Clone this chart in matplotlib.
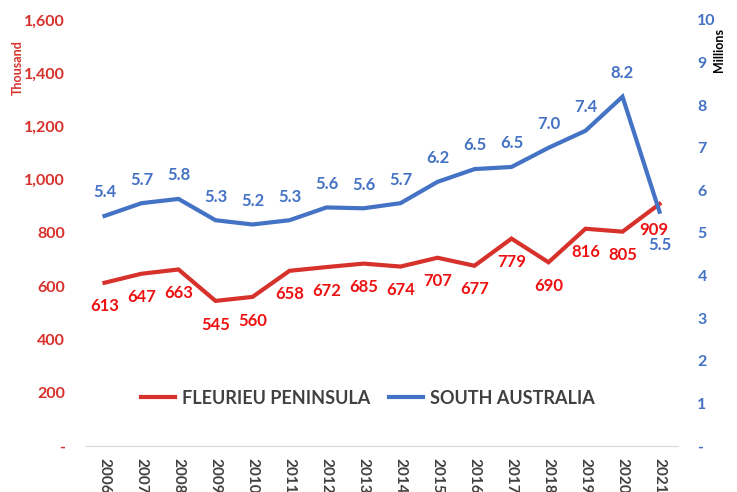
import matplotlib.pyplot as plt
from matplotlib.ticker import FuncFormatter

years = [str(y) for y in range(2006, 2022)]
fleurieu = [613, 647, 663, 545, 560, 658, 672, 685, 674, 707, 677, 779, 690, 816, 805, 909]
south_aus = [5.4, 5.7, 5.8, 5.3, 5.2, 5.3, 5.6, 5.58, 5.7, 6.2, 6.5, 6.55, 7.0, 7.4, 8.2, 5.5]

RED = "#D7312B"
RED_TXT = "#EE1111"
BLUE = "#4472C4"

plt.rcParams['font.family'] = ['Lato', 'DejaVu Sans']
plt.rcParams['font.weight'] = 'bold'

fig = plt.figure(figsize=(7.37, 4.92), dpi=100)
ax = fig.add_axes([86 / 737, 1 - 446 / 492, (678 - 86) / 737, (446 - 20) / 492])
ax2 = ax.twinx()

x = list(range(len(years)))
ax.plot(x, fleurieu, color=RED, lw=3, label="FLEURIEU PENINSULA", solid_joinstyle="miter")
ax2.plot(x, south_aus, color=BLUE, lw=3, label="SOUTH AUSTRALIA", solid_joinstyle="miter")

ax.set_xlim(-0.5, len(years) - 0.5)
ax.set_ylim(0, 1600)
ax2.set_ylim(0, 10)
ax.set_yticks(range(0, 1601, 200))
ax2.set_yticks(range(0, 11))

ax.yaxis.set_major_formatter(FuncFormatter(lambda v, p: "-" if v == 0 else f"{v:,.0f}"))
ax2.yaxis.set_major_formatter(FuncFormatter(lambda v, p: "-" if v == 0 else f"{v:.0f}"))

ax.set_xticks(x)
ax.set_xticklabels(years, rotation=270, fontsize=11, color="#404040", fontweight="bold")
ax.tick_params(axis="x", length=0, pad=9)
ax.tick_params(axis="y", length=0, labelsize=11.5, labelcolor=RED, pad=15)
ax2.tick_params(axis="y", length=0, labelsize=11.5, labelcolor=BLUE, pad=14)

for a in (ax, ax2):
    for side in ("top", "left", "right"):
        a.spines[side].set_visible(False)
    a.spines["bottom"].set_color("#D9D9D9")
ax2.spines["bottom"].set_visible(False)

# data labels
for i, v in enumerate(fleurieu):
    dx, dy = (-4, -19) if i == len(x) - 1 else (0, -17)
    ax.annotate(f"{v}", (i, v), xytext=(dx, dy), textcoords="offset points",
                ha="center", va="center", color=RED_TXT, fontsize=12, fontweight="bold")
for i, v in enumerate(south_aus):
    dy = -24 if i == len(x) - 1 else 17
    ax2.annotate(f"{v:.1f}", (i, v), xytext=(0, dy), textcoords="offset points",
                 ha="center", va="center", color=BLUE, fontsize=12, fontweight="bold")

fig.text(18 / 737, 1 - 68 / 492, "Thousand", rotation=90, ha="center", va="center",
         color=RED, fontsize=9, fontweight="bold")
fig.text(719 / 737, 1 - 50 / 492, "Millions", rotation=90, ha="center", va="center",
         color="black", fontsize=9, fontweight="bold")

h1, l1 = ax.get_legend_handles_labels()
h2, l2 = ax2.get_legend_handles_labels()
leg = ax2.legend(h1 + h2, l1 + l2, loc="center",
                 bbox_to_anchor=((368 - 86) / 592, 1 - (398 - 20) / 426),
                 ncol=2, frameon=False, fontsize=13, handlelength=1.9,
                 handletextpad=0.4, columnspacing=1.0)
for t in leg.get_texts():
    t.set_color("#404040")
    t.set_fontweight("bold")

fig.savefig("out.png", dpi=100)
